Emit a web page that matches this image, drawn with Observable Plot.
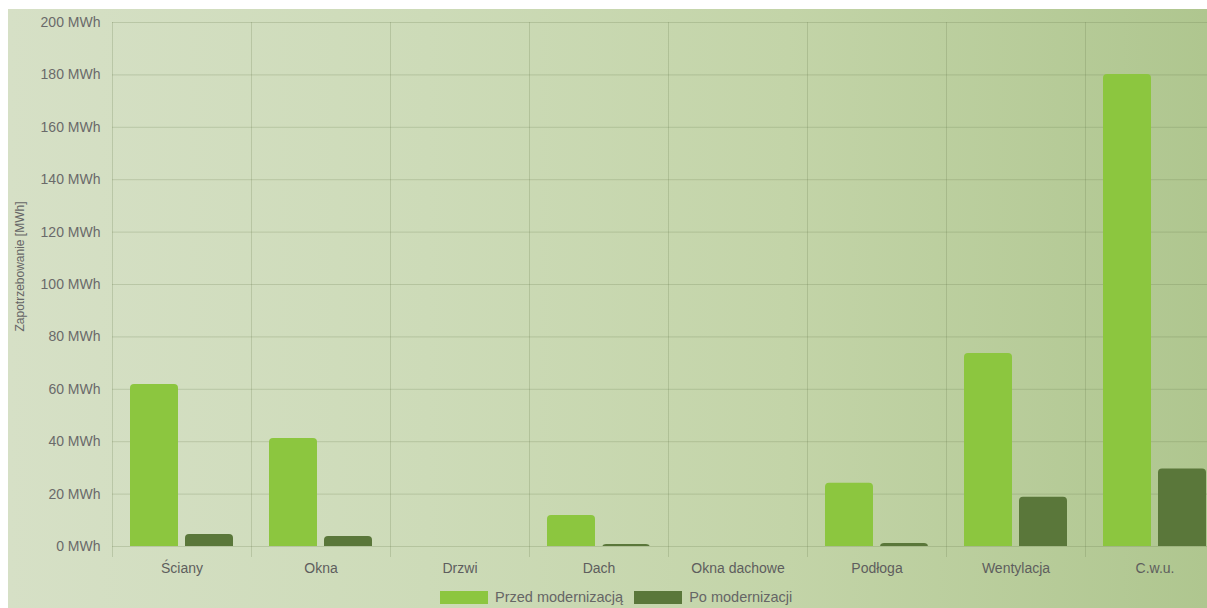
<!DOCTYPE html>
<html>
<head>
<meta charset="utf-8">
<script src="https://cdn.jsdelivr.net/npm/d3@7"></script>
<script src="https://cdn.jsdelivr.net/npm/@observablehq/plot@0.6"></script>
<style>
  html, body { margin: 0; padding: 0; background: #fff; }
  #wrap {
    position: absolute; left: 8px; top: 9px; width: 1199px; height: 599px; overflow: hidden;
    background: linear-gradient(to right, #d6e0c6 0%, #cddbb8 35%, #c3d4a8 65%, #afc68f 100%);
    font-family: "Liberation Sans", Arial, sans-serif;
  }
  #chart svg { max-width: none !important; }
  #legend {
    position: absolute; top: 580px; left: 432px; display: flex; align-items: center;
    font-size: 14.5px; color: #666;
  }
  #legend .item { display: flex; align-items: center; margin-right: 11px; }
  #legend .sw { width: 48px; height: 13px; margin-right: 7px; }
</style>
</head>
<body>
<div id="wrap">
  <div id="chart"></div>
  <div id="legend"></div>
</div>
<script>
const categories = ["Ściany", "Okna", "Drzwi", "Dach", "Okna dachowe", "Podłoga", "Wentylacja", "C.w.u."];
const series = ["Przed modernizacją", "Po modernizacji"];
const before = [61.8, 41.2, 0, 11.8, 0, 24.1, 73.7, 180.2];
const after = [4.6, 3.8, 0, 0.8, 0, 1.1, 18.8, 29.6];
const yTicks = [0, 20, 40, 60, 80, 100, 120, 140, 160, 180, 200];
const yLabel = "Zapotrzebowanie [MWh]";
const unit = "MWh";

const colors = ["#8cc63f", "#5a773a"];
const gridColor = "rgba(95,115,70,0.22)";

const data = [];
categories.forEach((c, i) => {
  data.push({category: c, series: series[0], value: before[i]});
  data.push({category: c, series: series[1], value: after[i]});
});
const labelData = [{category: categories[0], text: yLabel}];

const chart = Plot.plot({
  width: 1216,
  height: 580,
  marginLeft: 104,
  marginRight: 0,
  marginTop: 13,
  marginBottom: 43,
  style: {background: "transparent", fontFamily: "'Liberation Sans', Arial, sans-serif", fontSize: "13px", color: "#666", overflow: "visible", maxWidth: "none"},
  fx: {domain: categories, paddingInner: 0, paddingOuter: 0, label: null},
  x: {domain: series, paddingInner: 0.127, paddingOuter: 0.327, axis: null},
  y: {domain: [0, 200]},
  color: {domain: series, range: colors},
  marks: [
    Plot.gridY(yTicks, {stroke: gridColor, strokeOpacity: 1}),
    Plot.frame({anchor: "left", stroke: gridColor, strokeOpacity: 1, insetBottom: -10}),
    Plot.barY(data, {fx: "category", x: "series", y: "value", fill: "series", rx: 4, insetBottom: -6, clip: true}),
    Plot.axisY({ticks: yTicks, tickFormat: d => d + " " + unit, tickSize: 0, tickPadding: 12, label: null, fontSize: 14, fill: "#6a6a6a", letterSpacing: "-0.3px"}),
    Plot.text(labelData, {fx: "category", text: "text", frameAnchor: "left", textAnchor: "middle", rotate: -90, dx: -92, dy: -18, fontSize: 12, fill: "#666"}),
    Plot.axisFx({anchor: "bottom", tickSize: 0, tickPadding: 17, fontSize: 14, label: null, fill: "#5e5e5e", letterSpacing: "-0.2px"})
  ]
});
document.getElementById("chart").appendChild(chart);

const legend = document.getElementById("legend");
series.forEach((s, i) => {
  const item = document.createElement("div");
  item.className = "item";
  const sw = document.createElement("div");
  sw.className = "sw";
  sw.style.background = colors[i];
  const t = document.createElement("span");
  t.textContent = s;
  item.appendChild(sw);
  item.appendChild(t);
  legend.appendChild(item);
});
</script>
</body>
</html>
